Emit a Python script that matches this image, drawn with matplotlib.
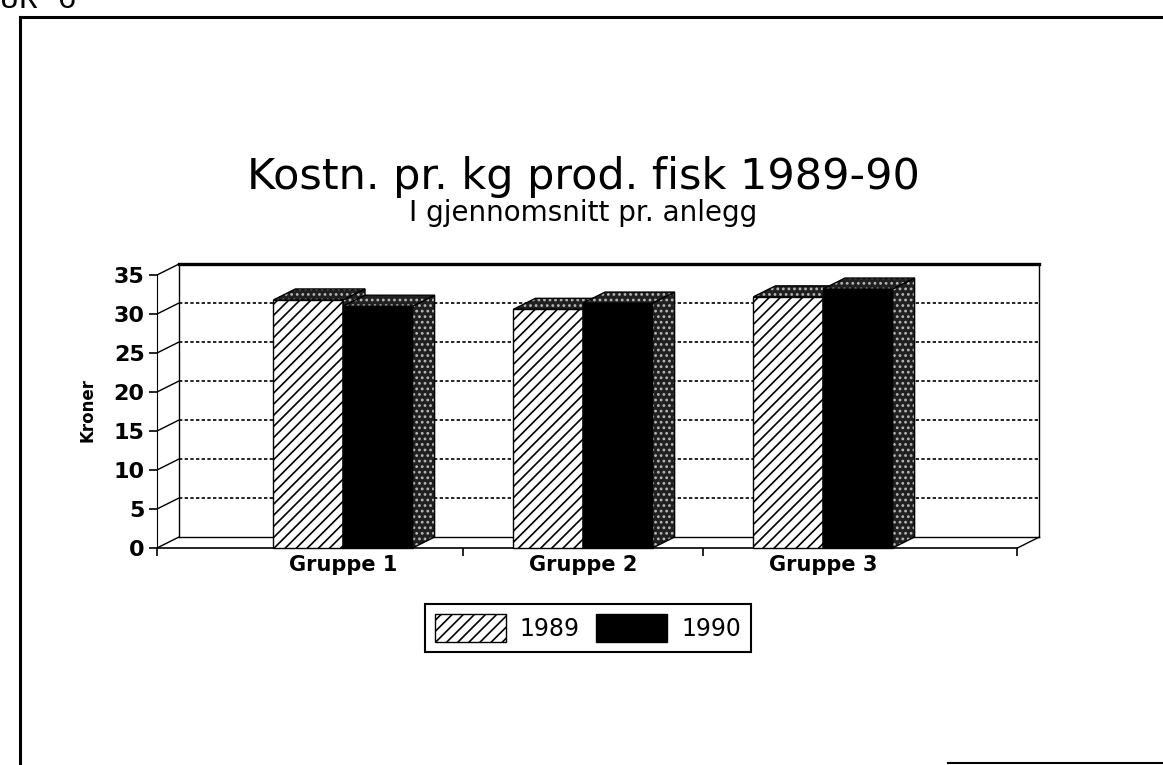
import numpy as np
import matplotlib
matplotlib.use("Agg")
import matplotlib.pyplot as plt
from matplotlib.patches import Polygon, Patch
from matplotlib.lines import Line2D

# data
grupper = ["Gruppe 1", "Gruppe 2", "Gruppe 3"]
kr_1989 = [31.8, 30.6, 32.2]
kr_1990 = [31.0, 31.4, 33.2]
aar = ["1989", "1990"]
yticks = [0, 5, 10, 15, 20, 25, 30, 35]

plt.rcParams['font.family'] = ['DejaVu Sans']
plt.rcParams['hatch.linewidth'] = 1.2

W, H = 1163, 765
fig = plt.figure(figsize=(W/100, H/100), dpi=100)

# axes geometry (pixel layout of the original)
x0, x1 = -0.775, 2.81      # floor front edge
xe = 2.93
yb, yt = -1.5, 37.0
pxx, pxy = 240.0, 7.8
left_px, zero_px = 157, 548
ax = fig.add_axes([left_px/W, (H-(zero_px-yb*pxy))/H, (xe-x0)*pxx/W, (yt-yb)*pxy/H])
ax.set_xlim(x0, xe)
ax.set_ylim(yb, yt)
ax.patch.set_alpha(0)

DX, DY = 0.0917, 1.41   # depth offset of the pseudo 3d
bw = 0.29

for s in ['top', 'right']:
    ax.spines[s].set_visible(False)
ax.spines['left'].set_bounds(0, 35)
ax.spines['left'].set_linewidth(0.8)
ax.spines['bottom'].set_position(('data', 0))
ax.spines['bottom'].set_bounds(x0, x1)
ax.spines['bottom'].set_linewidth(1.2)

ax.set_yticks(yticks)
ax.set_yticklabels([str(v) for v in yticks], fontsize=16, fontweight='bold')
ax.tick_params(axis='y', direction='out', length=6, width=1.2, pad=3)
ax.set_xticks([x0, 0.5, 1.5, x1])
ax.set_xticklabels(["", "", "", ""])
ax.tick_params(axis='x', which='major', direction='out', length=6, width=1.2)
ax.set_xticks(range(len(grupper)), minor=True)
ax.set_xticklabels(grupper, minor=True, fontsize=15, fontweight='bold')
ax.tick_params(axis='x', which='minor', length=0, pad=5)
ax.set_ylabel("Kroner", fontsize=12, fontweight='bold', labelpad=12)

# back wall, floor and grid
bx0, bx1 = x0 + DX, x1 + DX
ax.plot([bx0, bx1], [35+DY, 35+DY], color='black', lw=2.4, zorder=1)
ax.plot([bx0, bx0], [DY, 35+DY], color='black', lw=1.0, zorder=1)
ax.plot([bx1, bx1], [DY, 35+DY], color='black', lw=1.0, zorder=1)
ax.plot([bx0, bx1], [DY, DY], color='black', lw=1.0, zorder=1)
ax.plot([x1, bx1], [0, DY], color='black', lw=1.0, zorder=1)
for v in yticks:
    ax.plot([x0, bx0], [v, v+DY], color='black', lw=1.0, zorder=1)
    if 0 < v < 35:
        ax.plot([bx0, bx1], [v+DY, v+DY], color='black', lw=1.2,
                ls=(0, (2.0, 1.4)), zorder=1)

# front faces
b89 = ax.bar(np.arange(3) - bw, kr_1989, width=bw, align='edge', facecolor='white',
             edgecolor='black', hatch='///', lw=1.0, zorder=3)
b90 = ax.bar(np.arange(3), kr_1990, width=bw, align='edge', facecolor='black',
             edgecolor='black', lw=1.0, zorder=5)

def stipple(pts, z):
    ax.add_patch(Polygon(pts, closed=True, facecolor='#202020', edgecolor='#b8b8b8',
                         hatch='...', lw=0, zorder=z))
    ax.add_patch(Polygon(pts, closed=True, fill=False, edgecolor='black', lw=1.0, zorder=z))

for i in range(3):
    for xl, v, z in [(i - bw, kr_1989[i], 3), (i, kr_1990[i], 5)]:
        xr = xl + bw
        top = [(xl, v), (xr, v), (xr+DX, v+DY), (xl+DX, v+DY)]
        side = [(xr, 0), (xr+DX, DY), (xr+DX, v+DY), (xr, v)]
        stipple(side, z + 0.5)
        stipple(top, z + 0.6)

handles = [Patch(facecolor='white', edgecolor='black', hatch='///', lw=1.0),
           Patch(facecolor='black', edgecolor='black')]
leg = fig.legend(handles, aar, loc='center', bbox_to_anchor=(588/W, 1-628/H), ncol=2,
                 fontsize=17, frameon=True, fancybox=False, framealpha=1,
                 edgecolor='black', handlelength=3.0, handleheight=1.5,
                 columnspacing=0.7, handletextpad=0.6, borderpad=0.4)
leg.get_frame().set_linewidth(1.5)

fig.text(583/W, 1-189/H, "Kostn. pr. kg prod. fisk 1989-90", ha='center',
         va='baseline', fontsize=31)
fig.text(583/W, 1-221/H, "I gjennomsnitt pr. anlegg", ha='center',
         va='baseline', fontsize=20)

# page frame and figure caption cut at the top
fig.add_artist(Line2D([20/W, 20/W], [0, 1-17/H], color='black', lw=2.2))
fig.add_artist(Line2D([20/W, 1], [1-17/H, 1-17/H], color='black', lw=2.2))
fig.add_artist(Line2D([948/W, 1], [2/H, 2/H], color='black', lw=1.5))
fig.text(-58/W, 1-8/H, "FIGUR 6", family='Liberation Mono', fontsize=23,
         va='baseline', ha='left')

fig.savefig("out.png", dpi=100)
